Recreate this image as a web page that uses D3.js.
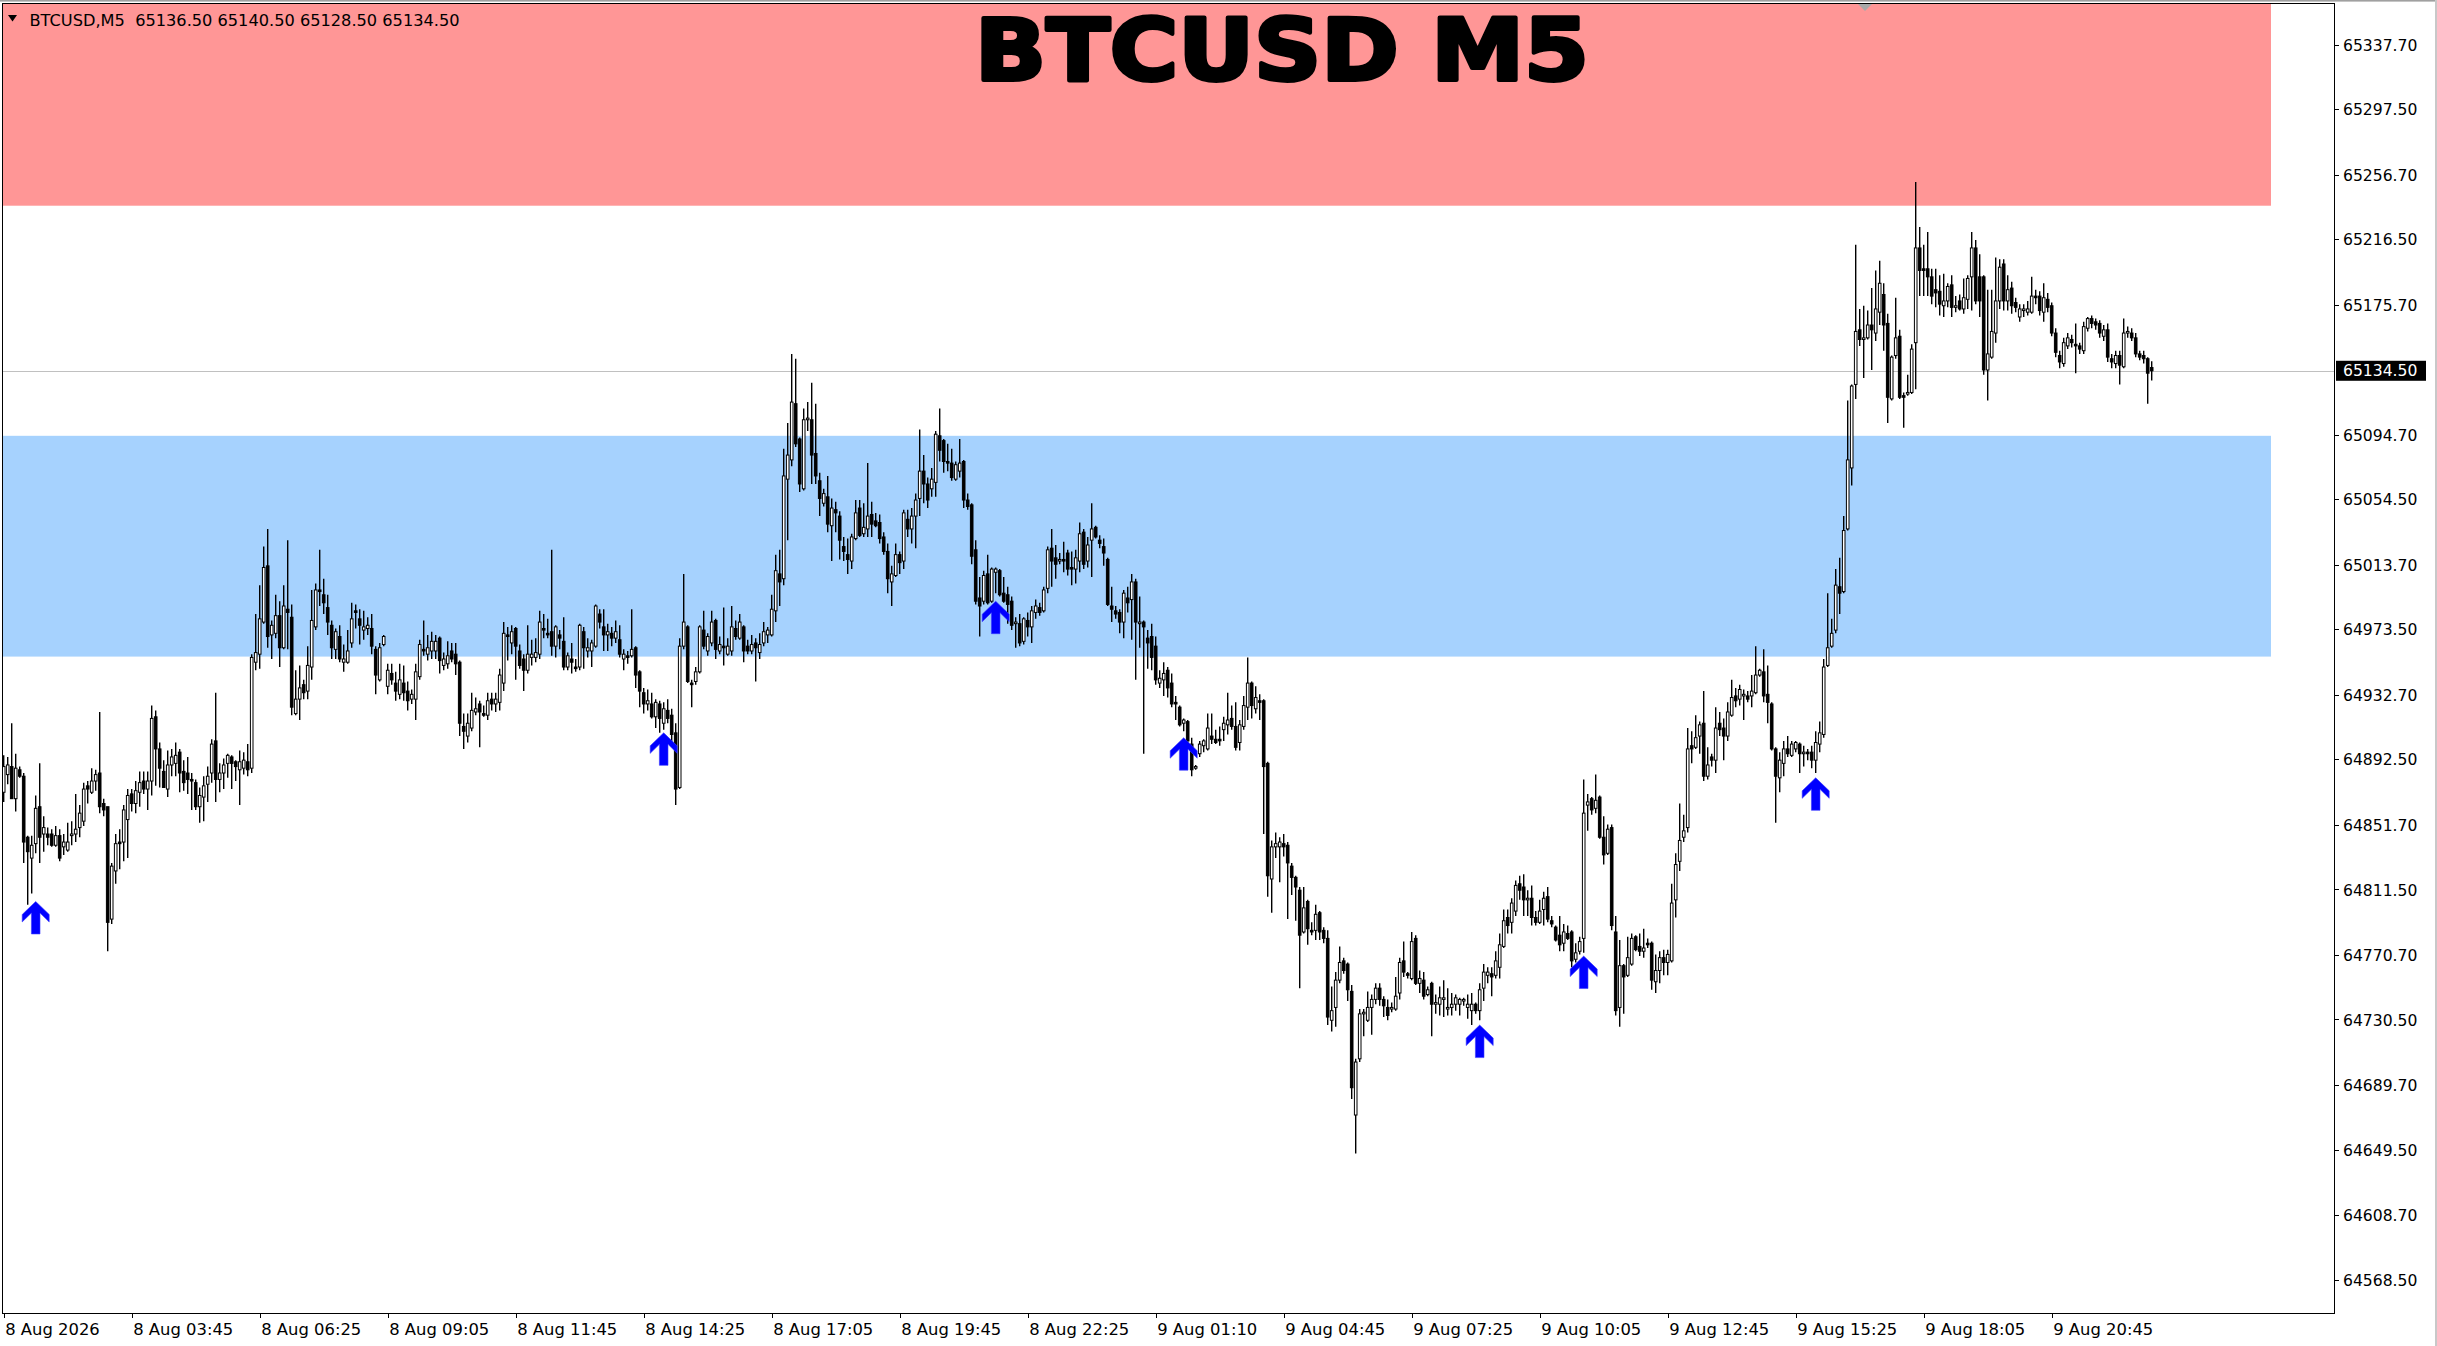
<!DOCTYPE html>
<html><head><meta charset="utf-8">
<script src="https://cdn.jsdelivr.net/npm/d3@7"></script>
<style>html,body{margin:0;padding:0;background:#fff;overflow:hidden}</style>
</head><body>
<script>
// ---------------- DATA ----------------
const opens=[
64872,64883,64888,64868,64886,64882,64844,64831,64840,64863,
64846,64846,64846,64839,64845,64838,64836,64845,64846,64850,
64854,64876,64872,64879,64884,64865,64863,64793,64823,64841,
64841,64855,64871,64865,64872,64879,64874,64879,64919,64899,
64885,64874,64889,64890,64897,64885,64884,64880,64878,64863,
64869,64877,64884,64904,64880,64884,64890,64894,64891,64886,
64887,64891,64887,64953,64958,64978,65013,64970,64971,64982,
64962,64986,64981,64921,64930,64939,64935,64950,64975,64998,
64995,64987,64976,64961,64969,64953,64953,64965,64985,64980,
64973,64974,64974,64961,64942,64964,64938,64946,64940,64933,
64940,64935,64930,64930,64944,64961,64958,64960,64960,64968,
64951,64952,64960,64958,64953,64913,64907,64912,64922,64927,
64921,64920,64930,64927,64928,64940,64970,64965,64974,64960,
64955,64948,64956,64956,64958,64974,64971,64972,64963,64970,
64966,64950,64955,64950,64950,64972,64960,64960,64963,64983,
64975,64970,64971,64968,64967,64955,64957,64957,64962,64947,
64934,64927,64927,64919,64927,64915,64923,64920,64909,64875,
64963,64975,64940,64941,64947,64973,64960,64965,64979,64960,
64963,64958,64960,64974,64968,64975,64963,64960,64965,64959,
64965,64970,64970,64985,65008,65005,65067,65079,65114,65092,
65061,65104,65104,65083,65066,65052,65056,65038,65048,65044,
65025,65020,65016,65030,65049,65033,65036,65045,65041,65040,
65031,65022,65003,65007,65020,65016,65042,65036,65044,65055,
65072,65064,65061,65065,65094,65091,65078,65077,65067,65072,
65078,65054,65051,65023,64993,64991,65008,64991,65009,65010,
64996,64995,64991,64977,64977,64966,64979,64975,64984,64987,
64985,64999,65024,65018,65016,65017,65021,65012,65011,65016,
65034,65016,65029,65037,65029,65025,65017,64988,64985,64984,
64978,64993,64992,65003,64977,64978,64968,64969,64963,64940,
64942,64948,64940,64928,64925,64915,64916,64902,64887,64896,
64901,64899,64907,64905,64905,64911,64914,64918,64913,64903,
64913,64925,64940,64924,64929,64929,64890,64818,64838,64838,
64840,64839,64826,64819,64811,64785,64804,64786,64786,64797,
64786,64781,64730,64738,64755,64767,64765,64748,64671,64706,
64734,64730,64738,64743,64750,64743,64738,64737,64737,64747,
64767,64759,64756,64781,64753,64755,64746,64753,64740,64740,
64743,64737,64738,64740,64740,64742,64738,64736,64740,64736,
64750,64758,64759,64758,64763,64776,64794,64791,64798,64815,
64813,64805,64806,64794,64791,64799,64807,64792,64788,64783,
64778,64784,64785,64768,64773,64781,64864,64868,64862,64869,
64844,64834,64850,64785,64738,64764,64758,64765,64782,64776,
64773,64778,64778,64754,64761,64769,64766,64767,64805,64829,
64844,64850,64901,64900,64907,64915,64882,64894,64892,64915,
64912,64907,64920,64932,64930,64932,64932,64932,64934,64945,
64947,64933,64927,64899,64881,64890,64899,64895,64899,64902,
64896,64897,64897,64892,64902,64908,64951,64963,64973,65000,
64997,65036,65074,65126,65160,65154,65155,65163,65158,65171,
65182,65164,65117,65144,65156,65119,65120,65121,65152,65211,
65198,65198,65193,65185,65184,65175,65178,65188,65174,65178,
65173,65179,65193,65211,65193,65193,65135,65143,65158,65178,
65201,65178,65186,65177,65168,65172,65171,65171,65181,65181,
65171,65179,65175,65158,65144,65139,65150,65154,65151,65150,
65147,65161,65167,65165,65164,65156,65160,65142,65139,65144,
65137,65158,65158,65155,65145,65144,65142,65136.5];
const highs=[
64895,64894,64915,64896,64888,64884,64845,64845,64870,64890,
64857,64850,64849,64851,64849,64846,64853,64854,64871,64864,
64878,64879,64887,64886,64922,64868,64863,64828,64846,64849,
64864,64874,64874,64879,64885,64885,64885,64926,64923,64903,
64892,64898,64899,64903,64899,64892,64894,64884,64880,64875,
64882,64888,64905,64934,64890,64893,64896,64895,64892,64898,
64897,64902,64958,64983,65001,65025,65036,64979,64995,64991,
65001,65029,64989,64948,64951,64942,64963,64998,65002,65023,
65005,64995,64979,64974,64976,64964,64973,64990,64989,64986,
64985,64981,64983,64963,64965,64970,64952,64952,64947,64952,
64951,64941,64936,64952,64967,64979,64970,64972,64970,64969,
64959,64966,64965,64965,64954,64921,64921,64934,64931,64929,
64926,64934,64934,64934,64949,64978,64975,64976,64975,64964,
64958,64976,64967,64968,64985,64983,64980,65023,64976,64973,
64981,64959,64965,64955,64977,64975,64968,64967,64989,64986,
64986,64977,64975,64979,64976,64961,64960,64986,64963,64948,
64937,64936,64934,64930,64929,64928,64930,64924,64915,64968,
65008,64976,64942,64950,64976,64985,64971,64985,64980,64969,
64987,64968,64988,64979,64983,64976,64967,64970,64968,64971,
64978,64975,64995,65020,65023,65086,65102,65145,65142,65093,
65111,65115,65127,65114,65071,65061,65069,65055,65053,65047,
65031,65030,65033,65054,65054,65052,65077,65053,65046,65045,
65034,65027,65013,65027,65022,65048,65048,65049,65058,65098,
65082,65068,65074,65097,65111,65092,65089,65086,65078,65092,
65079,65058,65052,65029,65006,65010,65020,65012,65012,65011,
65006,65000,64994,64981,64983,64981,64984,64988,64992,64990,
65000,65025,65036,65026,65021,65028,65023,65022,65023,65040,
65036,65031,65052,65038,65032,65030,65018,65000,64988,64986,
64998,65000,65008,65005,64994,64979,64973,64977,64969,64948,
64953,64950,64946,64932,64926,64918,64917,64906,64889,64904,
64905,64921,64921,64911,64913,64919,64934,64926,64928,64917,
64932,64956,64941,64938,64933,64930,64891,64842,64847,64844,
64846,64841,64828,64820,64813,64813,64805,64791,64802,64798,
64788,64786,64751,64760,64776,64769,64766,64752,64706,64737,
64737,64748,64746,64753,64753,64745,64743,64741,64757,64769,
64779,64760,64785,64783,64761,64760,64751,64754,64746,64751,
64755,64750,64747,64746,64744,64744,64746,64747,64741,64753,
64765,64763,64763,64773,64784,64799,64799,64806,64817,64820,
64821,64811,64814,64798,64805,64810,64813,64795,64789,64795,
64790,64789,64786,64778,64782,64880,64871,64869,64883,64870,
64857,64852,64852,64795,64780,64765,64782,64784,64783,64784,
64787,64781,64779,64771,64773,64774,64774,64815,64834,64865,
64858,64912,64910,64920,64916,64935,64900,64896,64925,64922,
64918,64928,64942,64937,64939,64936,64935,64945,64963,64949,
64961,64951,64928,64900,64897,64904,64907,64904,64904,64903,
64901,64899,64901,64910,64916,64955,64996,64980,65011,65018,
65044,65116,65126,65213,65173,65175,65172,65186,65197,65203,
65189,65170,65144,65180,65160,65121,65132,65151,65252,65224,
65213,65221,65198,65198,65194,65195,65189,65194,65181,65182,
65192,65194,65221,65216,65207,65194,65185,65185,65205,65204,
65204,65194,65190,65180,65176,65176,65178,65193,65185,65184,
65189,65183,65177,65161,65147,65155,65158,65157,65164,65152,
65165,65168,65169,65167,65166,65163,65164,65145,65147,65147,
65167,65162,65161,65158,65147,65147,65143,65140.5];
const lows=[
64866,64877,64868,64860,64881,64828,64802,64809,64834,64828,
64835,64839,64838,64838,64829,64833,64835,64839,64841,64844,
64851,64865,64871,64873,64859,64857,64773,64790,64815,64824,
64829,64831,64860,64859,64863,64871,64861,64870,64876,64875,
64875,64869,64882,64882,64872,64873,64871,64861,64861,64853,
64854,64866,64878,64866,64872,64874,64881,64874,64879,64864,
64883,64882,64884,64948,64949,64977,64962,64955,64968,64950,
64961,64961,64920,64920,64917,64930,64930,64942,64973,64988,
64983,64970,64955,64955,64953,64947,64952,64962,64974,64964,
64967,64970,64958,64933,64941,64963,64933,64939,64929,64930,
64929,64923,64927,64917,64942,64957,64954,64955,64955,64946,
64948,64949,64953,64945,64907,64899,64903,64910,64920,64900,
64919,64917,64923,64922,64923,64935,64954,64958,64942,64949,
64935,64946,64951,64953,64955,64968,64968,64957,64956,64961,
64948,64948,64946,64947,64948,64949,64956,64950,64962,64974,
64960,64960,64963,64965,64956,64948,64952,64956,64937,64925,
64921,64923,64918,64912,64909,64911,64915,64902,64864,64874,
64961,64940,64925,64939,64946,64961,64957,64963,64955,64958,
64951,64957,64957,64967,64967,64953,64958,64958,64941,64955,
64963,64965,64969,64978,64988,65001,65029,65075,65087,65059,
65060,65097,65064,65064,65044,65050,65034,65016,65034,65017,
65016,65008,65011,65029,65031,65031,65031,65031,65037,65027,
65020,64996,64988,65006,65008,65011,65031,65027,65024,65044,
65052,65049,65056,65056,65078,65071,65072,65066,65066,65068,
65049,65048,65014,64989,64969,64989,64989,64990,64996,64994,
64990,64977,64973,64962,64963,64964,64969,64965,64980,64982,
64984,64996,65000,65005,65014,65009,65007,65001,65002,65009,
65011,65012,65006,65030,65024,65013,64988,64978,64980,64971,
64968,64984,64967,64942,64962,64896,64949,64948,64939,64937,
64932,64931,64925,64917,64913,64910,64900,64882,64886,64894,
64897,64898,64902,64902,64901,64904,64908,64911,64898,64898,
64911,64917,64918,64921,64917,64846,64807,64797,64831,64816,
64832,64793,64808,64792,64750,64784,64777,64783,64780,64780,
64778,64727,64723,64726,64753,64759,64742,64681,64647,64704,
64720,64729,64721,64740,64739,64732,64730,64735,64736,64743,
64757,64756,64755,64752,64747,64743,64745,64720,64734,64733,
64732,64733,64733,64736,64733,64739,64731,64727,64734,64730,
64742,64753,64745,64756,64756,64775,64784,64784,64795,64805,
64795,64795,64789,64789,64790,64789,64791,64788,64779,64773,
64773,64780,64763,64766,64771,64772,64848,64858,64859,64843,
64827,64833,64786,64733,64726,64734,64757,64764,64773,64770,
64769,64775,64749,64747,64753,64758,64758,64766,64794,64823,
64841,64847,64890,64899,64896,64879,64880,64888,64884,64907,
64892,64904,64919,64925,64926,64917,64928,64925,64933,64944,
64928,64915,64898,64853,64872,64882,64894,64894,64897,64884,
64888,64892,64887,64884,64897,64906,64950,64962,64971,64983,
64996,65035,65063,65117,65150,65130,65154,65135,65153,65163,
65147,65102,65116,65142,65117,65099,65119,65120,65123,65181,
65181,65181,65176,65174,65169,65168,65174,65168,65171,65172,
65170,65173,65172,65176,65168,65132,65116,65142,65152,65173,
65172,65172,65170,65171,65165,65168,65169,65170,65176,65169,
65165,65171,65156,65143,65136,65137,65148,65149,65133,65145,
65145,65159,65161,65160,65155,65153,65140,65136,65136,65126,
65136,65155,65153,65143,65141,65139,65114,65128.5];
const closes=[
64888,64889,64868,64887,64882,64841,64835,64839,64862,64844,
64850,64844,64839,64845,64831,64841,64841,64846,64849,64859,
64874,64874,64879,64883,64863,64861,64791,64826,64840,64840,
64861,64870,64865,64873,64878,64874,64879,64918,64899,64887,
64875,64889,64894,64895,64884,64878,64880,64879,64863,64870,
64876,64882,64902,64880,64884,64889,64895,64890,64888,64891,
64892,64886,64956,64959,64980,65012,64969,64976,64982,64962,
64988,64984,64925,64930,64937,64934,64951,64979,64998,64997,
64990,64978,64962,64972,64955,64955,64960,64980,64984,64976,
64975,64976,64963,64945,64962,64969,64948,64942,64935,64942,
64934,64929,64933,64947,64964,64960,64962,64966,64966,64954,
64955,64957,64955,64952,64915,64910,64915,64923,64924,64922,
64920,64929,64927,64930,64945,64971,64969,64972,64963,64951,
64948,64958,64958,64959,64978,64973,64970,64963,64975,64968,
64950,64957,64953,64949,64976,64962,64962,64965,64988,64978,
64970,64972,64968,64972,64958,64958,64956,64961,64945,64935,
64927,64929,64919,64928,64918,64924,64918,64908,64874,64963,
64978,64941,64939,64947,64975,64963,64969,64978,64961,64964,
64962,64963,64975,64969,64978,64960,64960,64964,64962,64964,
64972,64973,64986,65010,65003,65069,65082,65115,65089,65064,
65104,65105,65082,65069,65055,65058,65039,65049,65046,65029,
65022,65017,65031,65046,65032,65037,65044,65039,65038,65030,
65022,65005,65008,65020,65015,65046,65036,65044,65054,65072,
65064,65054,65067,65095,65085,65078,65077,65068,65076,65077,
65054,65050,65019,64991,64988,65007,64990,65011,65011,64995,
64991,64989,64976,64978,64965,64980,64975,64985,64988,64984,
64998,65023,65016,65014,65017,65016,65011,65011,65018,65033,
65014,65026,65036,65031,65027,65021,64989,64986,64983,64978,
64996,64990,65003,64978,64978,64975,64965,64956,64942,64943,
64946,64937,64927,64927,64914,64917,64904,64886,64888,64902,
64904,64912,64905,64903,64904,64915,64917,64913,64900,64914,
64926,64940,64926,64931,64928,64888,64820,64838,64840,64841,
64838,64828,64819,64813,64783,64800,64787,64785,64796,64785,
64781,64732,64736,64755,64766,64761,64749,64688,64704,64734,
64735,64738,64743,64750,64743,64739,64733,64738,64745,64766,
64760,64758,64779,64753,64756,64745,64749,64740,64741,64744,
64744,64738,64740,64744,64743,64743,64740,64740,64736,64749,
64760,64760,64757,64767,64777,64792,64789,64803,64814,64811,
64805,64806,64794,64791,64798,64806,64793,64790,64780,64777,
64785,64781,64767,64772,64779,64859,64866,64861,64867,64844,
64833,64849,64789,64736,64764,64757,64769,64781,64774,64773,
64775,64777,64755,64761,64769,64766,64771,64803,64827,64842,
64848,64899,64899,64906,64914,64882,64889,64892,64912,64911,
64907,64922,64931,64929,64936,64933,64930,64935,64945,64948,
64932,64928,64899,64882,64892,64899,64896,64902,64903,64896,
64897,64896,64892,64903,64909,64950,64962,64971,65001,64996,
65035,65079,65125,65159,65154,65155,65163,65160,65173,65189,
65163,65118,65143,65155,65118,65118,65121,65148,65211,65197,
65197,65193,65181,65183,65176,65178,65187,65174,65175,65173,
65180,65192,65211,65178,65178,65135,65145,65159,65178,65199,
65178,65185,65175,65174,65173,65173,65173,65181,65180,65172,
65180,65174,65158,65146,65140,65152,65155,65152,65150,65148,
65162,65167,65164,65163,65158,65160,65143,65140,65144,65138,
65158,65159,65155,65145,65143,65142,65133,65134.5];

const priceTicks=[65337.70,65297.50,65256.70,65216.50,65175.70,65094.70,65054.50,65013.70,64973.50,64932.70,
  64892.50,64851.70,64811.50,64770.70,64730.50,64689.70,64649.50,64608.70,64568.50];
const timeTickBars=[0,32,64,96,128,160,192,224,256,288,320,352,384,416,448,480,512];
const timeTickLabels=["8 Aug 2026","8 Aug 03:45","8 Aug 06:25","8 Aug 09:05","8 Aug 11:45","8 Aug 14:25",
  "8 Aug 17:05","8 Aug 19:45","8 Aug 22:25","9 Aug 01:10","9 Aug 04:45","9 Aug 07:25","9 Aug 10:05",
  "9 Aug 12:45","9 Aug 15:25","9 Aug 18:05","9 Aug 20:45"];
const signalBars=[8,165,248,295,369,395,453];
const signalPrices=[64804,64909,64991,64906,64727,64770,64881];
const supplyZone=[65237.3,65362.3];
const demandZone=[64956.5,65094.0];
const headerValues=[65136.50,65140.50,65128.50,65134.50];
const symbolName="BTCUSD";
const periodName="M5";
const currentPrice=65134.50;
const priceDomain=[64547.7,65362.3];

// ---------------- LAYOUT ----------------
const W=2437,H=1346;
const L=2.5,T=3.5,R=2334.5,B=1313.5;
const n=closes.length;
const svg=d3.select("body").append("svg").attr("width",W).attr("height",H)
  .style("display","block").style("font-family","'DejaVu Sans',sans-serif");
svg.append("rect").attr("width",W).attr("height",H).attr("fill","#fff");

const y=d3.scaleLinear().domain(priceDomain).range([1313,5]);
const x=d3.scaleLinear().domain([0,n-1]).range([3.7,3.7+4*(n-1)]);
const zoneRight=2271;

svg.append("defs").append("clipPath").attr("id","plot")
  .append("rect").attr("x",L).attr("y",T).attr("width",R-L).attr("height",B-T);
const plot=svg.append("g").attr("clip-path","url(#plot)");

// zones
plot.append("rect").attr("x",L).attr("y",T).attr("width",zoneRight-L)
  .attr("height",y(supplyZone[0])-T).attr("fill","#ff9696");
plot.append("rect").attr("x",L).attr("y",y(demandZone[1])).attr("width",zoneRight-L)
  .attr("height",y(demandZone[0])-y(demandZone[1])).attr("fill","#a6d2fe");

// current price line
plot.append("line").attr("x1",L).attr("x2",R).attr("y1",Math.round(y(currentPrice))+0.5)
  .attr("y2",Math.round(y(currentPrice))+0.5).attr("stroke","#c0c0c0").attr("stroke-width",1.2);

// candles
const idx=d3.range(n);
const cg=plot.append("g");
cg.selectAll("line.wick").data(idx).join("line").attr("class","wick")
  .attr("x1",i=>x(i)).attr("x2",i=>x(i))
  .attr("y1",i=>y(highs[i])).attr("y2",i=>y(lows[i]))
  .attr("stroke","#000").attr("stroke-width",1.4);
cg.selectAll("rect.body").data(idx).join("rect").attr("class","body")
  .attr("x",i=>x(i)-1.3).attr("width",2.6)
  .attr("y",i=>y(Math.max(opens[i],closes[i])))
  .attr("height",i=>Math.max(0.6,Math.abs(y(opens[i])-y(closes[i]))))
  .attr("fill",i=>closes[i]>opens[i]?"#ffffff":"#000000")
  .attr("stroke","#000").attr("stroke-width",1);

// signal arrows
const arrowPath="M0,0 L13.5,13 L13.5,20.5 L4.3,11.5 L4.3,32.5 L-4.3,32.5 L-4.3,11.5 L-13.5,20.5 L-13.5,13 Z";
plot.selectAll("path.sig").data(signalBars).join("path").attr("class","sig")
  .attr("d",arrowPath)
  .attr("transform",(b,k)=>`translate(${x(b)},${y(signalPrices[k])})`)
  .attr("fill","#0000ff").attr("stroke","#3a3aff").attr("stroke-width",0.6);

// frame
svg.append("rect").attr("x",0).attr("y",0).attr("width",W).attr("height",1.6).attr("fill","#a0a0a0");
svg.append("rect").attr("x",W-2).attr("y",0).attr("width",2).attr("height",H).attr("fill","#c8c8c8");
svg.append("rect").attr("x",L).attr("y",T).attr("width",R-L).attr("height",B-T)
  .attr("fill","none").attr("stroke","#000").attr("stroke-width",1).attr("shape-rendering","crispEdges");
svg.append("path").attr("d","M1858,4 L1872,4 L1865,11 Z").attr("fill","#a8a8a8");

// price axis
const ya=svg.append("g").attr("transform",`translate(${R},0)`)
  .call(d3.axisRight(y).tickValues(priceTicks).tickFormat(d3.format(".2f")).tickSize(4).tickSizeOuter(0));
ya.select(".domain").remove();
ya.selectAll(".tick line").attr("stroke","#000").attr("shape-rendering","crispEdges");
ya.selectAll(".tick text").attr("x",8.5).attr("dy","0.36em")
  .style("font-family","'DejaVu Sans',sans-serif").style("font-size","15.6px").attr("fill","#000");

// current price label
const cpy=y(currentPrice);
svg.append("rect").attr("x",R+1.5).attr("y",cpy-10).attr("width",90).attr("height",20).attr("fill","#000");
svg.append("text").attr("x",R+8.5).attr("y",cpy).attr("dy","0.36em").attr("fill","#fff")
  .style("font-size","15.6px").text(d3.format(".2f")(currentPrice));

// time axis
const xa=svg.append("g").attr("transform",`translate(0,${B})`)
  .call(d3.axisBottom(x).tickValues(timeTickBars).tickFormat((d,k)=>timeTickLabels[k]).tickSize(4).tickSizeOuter(0));
xa.select(".domain").remove();
xa.selectAll(".tick line").attr("stroke","#000").attr("shape-rendering","crispEdges");
xa.selectAll(".tick text").attr("text-anchor","start").attr("x",1).attr("y",10).attr("dy","0.71em")
  .style("font-family","'DejaVu Sans',sans-serif").style("font-size","16.4px").attr("fill","#000");

// header
svg.append("path").attr("d","M8,15 L17,15 L12.5,21.5 Z").attr("fill","#000");
svg.append("text").attr("x",29.5).attr("y",25.5).attr("fill","#000").style("font-size","16.2px")
  .attr("xml:space","preserve").style("white-space","pre")
  .text(`${symbolName},${periodName}  `+headerValues.map(d3.format(".2f")).join(" "));

// title
svg.append("text").attr("x",975).attr("y",80).attr("fill","#000")
  .attr("stroke","#000").attr("stroke-width",4).attr("stroke-linejoin","round")
  .style("font-family","'DejaVu Sans',sans-serif").style("font-weight","bold").style("font-size","85px")
  .attr("textLength",614).attr("lengthAdjust","spacingAndGlyphs")
  .text(`${symbolName} ${periodName}`);
</script>
</body></html>
